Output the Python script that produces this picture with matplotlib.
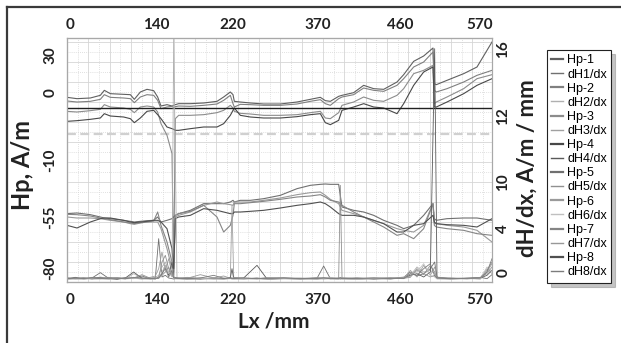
import matplotlib
matplotlib.use("Agg")
import matplotlib.pyplot as plt
from matplotlib.lines import Line2D
from matplotlib.ticker import MultipleLocator

# chart units: x 0..1275 along Lx, y 0..732 (tick labels of the source are non-linear)
lx = [0, 30, 70, 100, 112, 130, 170, 190, 202, 220, 240, 260, 272, 282, 300, 315, 320, 325, 335, 370,
      410, 450, 470, 490, 498, 502, 520, 550, 590, 640, 690, 730, 760, 775, 790, 815, 825, 860, 890, 920,
      950, 990, 1010, 1040, 1070, 1098, 1102, 1108, 1140, 1190, 1230, 1275]

hp1 = [554, 550, 552, 560, 575, 565, 563, 562, 548, 570, 578, 574, 555, 528, 532, 528, 530, 532, 535, 535,
       537, 542, 555, 570, 562, 542, 540, 537, 534, 534, 540, 548, 554, 544, 542, 557, 560, 568, 590, 580,
       578, 600, 622, 662, 678, 702, 595, 592, 605, 625, 645, 720]
hp2 = [543, 540, 542, 548, 562, 554, 552, 550, 538, 555, 562, 560, 545, 520, 525, 527, 524, 526, 528, 527,
       530, 534, 545, 560, 535, 525, 533, 532, 530, 530, 534, 542, 547, 535, 530, 550, 555, 562, 582, 575,
       572, 590, 610, 645, 660, 690, 575, 570, 580, 600, 620, 635]
hp3 = [512, 510, 514, 518, 532, 525, 522, 518, 508, 525, 528, 525, 510, 475, 440, 385, 40, 490, 500, 500,
       502, 508, 515, 530, 522, 512, 506, 504, 500, 500, 502, 508, 512, 492, 490, 508, 530, 540, 555, 545,
       542, 560, 580, 625, 635, 650, 535, 540, 555, 580, 610, 622]
hp4 = [482, 484, 488, 492, 505, 498, 495, 490, 478, 492, 512, 515, 502, 490, 465, 460, 458, 455, 455, 460,
       465, 465, 475, 500, 515, 522, 500, 495, 492, 492, 496, 502, 505, 478, 472, 485, 515, 525, 535, 525,
       522, 505, 535, 590, 630, 645, 525, 525, 540, 565, 590, 610]
hp5 = [205, 207, 202, 195, 192, 190, 185, 182, 180, 182, 184, 185, 195, 180, 185, 190, 195, 200, 205, 215,
       235, 235, 235, 240, 245, 240, 245, 245, 250, 260, 280, 290, 293, 294, 293, 293, 225, 215, 210, 200,
       185, 170, 160, 170, 200, 235, 190, 185, 190, 192, 192, 185]
hp6 = [195, 192, 192, 190, 188, 185, 180, 175, 173, 177, 180, 180, 180, 160, 100, 40, 20, 195, 200, 210,
       230, 240, 235, 232, 230, 240, 240, 240, 245, 252, 262, 268, 270, 260, 248, 235, 215, 205, 195, 185,
       175, 160, 155, 150, 170, 235, 175, 175, 170, 165, 155, 120]
hp7 = [203, 202, 198, 192, 190, 187, 180, 177, 175, 178, 180, 183, 210, 170, 120, 60, 30, 200, 205, 212,
       230, 195, 150, 170, 200, 235, 235, 238, 242, 248, 255, 258, 262, 255, 245, 240, 230, 210, 195, 180,
       165, 140, 145, 130, 160, 235, 170, 165, 160, 155, 145, 140]
hp8 = [170, 162, 180, 190, 192, 192, 185, 180, 178, 180, 182, 185, 185, 180, 160, 100, 40, 190, 195, 200,
       220, 215, 210, 205, 205, 210, 210, 212, 215, 222, 230, 235, 240, 235, 225, 205, 200, 200, 195, 185,
       175, 150, 150, 170, 175, 200, 180, 175, 172, 170, 165, 190]

lx_d = [0, 25, 50, 75, 100, 125, 150, 175, 200, 225, 250, 265, 275, 285, 295, 305, 315, 320, 330, 360,
        400, 440, 470, 490, 495, 500, 530, 570, 600, 650, 700, 750, 770, 790, 815, 820, 825, 870, 920, 970,
        1010, 1030, 1050, 1070, 1090, 1103, 1110, 1150, 1200, 1240, 1260, 1275]

dh1 = [10, 14, 9, 12, 28, 11, 8, 13, 10, 18, 9, 12, 130, 15, 20, 12, 10, 9, 11, 8, 12, 10, 9, 14, 11, 10,
       9, 12, 8, 10, 9, 11, 48, 10, 9, 12, 10, 8, 11, 9, 14, 30, 18, 25, 40, 60, 12, 9, 11, 14, 10, 22]
dh2 = [8, 11, 13, 9, 15, 10, 12, 9, 25, 12, 10, 14, 20, 45, 60, 30, 15, 732, 12, 10, 9, 13, 10, 12, 9, 11,
       10, 9, 13, 10, 12, 9, 10, 14, 11, 12, 10, 9, 12, 10, 15, 20, 45, 30, 35, 25, 10, 12, 9, 13, 40, 25]
dh3 = [12, 9, 10, 14, 11, 9, 13, 10, 12, 9, 14, 18, 40, 90, 35, 70, 25, 12, 10, 14, 11, 9, 12, 10, 230, 14,
       10, 11, 9, 12, 10, 13, 9, 11, 10, 14, 12, 10, 9, 11, 10, 35, 15, 50, 20, 45, 15, 10, 12, 9, 30, 55]
dh4 = [9, 12, 10, 11, 13, 10, 9, 12, 30, 11, 10, 9, 15, 25, 50, 20, 60, 15, 12, 10, 9, 11, 10, 12, 40, 10,
       12, 50, 9, 11, 10, 9, 12, 10, 11, 9, 10, 12, 9, 11, 12, 20, 25, 15, 30, 700, 14, 10, 11, 12, 20, 35]
dh5 = [11, 10, 12, 9, 10, 14, 11, 10, 12, 22, 11, 10, 12, 60, 80, 40, 30, 12, 11, 13, 10, 12, 9, 11, 10, 12,
       11, 10, 12, 11, 9, 12, 11, 10, 12, 290, 12, 11, 10, 12, 11, 14, 40, 22, 50, 30, 12, 11, 10, 12, 35, 60]
dh6 = [7, 9, 8, 10, 9, 8, 10, 9, 11, 9, 8, 10, 12, 30, 50, 25, 40, 10, 9, 8, 10, 9, 8, 10, 9, 8,
       10, 9, 8, 10, 9, 8, 10, 9, 8, 10, 9, 8, 10, 9, 12, 25, 30, 55, 20, 15, 9, 8, 10, 9, 45, 30]
dh7 = [13, 11, 12, 10, 12, 11, 13, 12, 14, 11, 12, 13, 11, 20, 30, 45, 20, 13, 12, 11, 22, 12, 18, 11, 12, 13,
       12, 11, 12, 13, 11, 12, 13, 12, 11, 13, 12, 11, 12, 13, 11, 18, 35, 25, 15, 20, 13, 12, 11, 13, 25, 45]
dh8 = [10, 12, 11, 13, 10, 12, 11, 10, 13, 12, 11, 10, 12, 25, 40, 15, 35, 12, 11, 10, 12, 20, 11, 12, 10, 11,
       12, 10, 11, 12, 10, 11, 12, 10, 11, 12, 10, 11, 12, 10, 11, 25, 20, 40, 55, 18, 12, 10, 11, 12, 30, 70]

ref_level = 521      # black horizontal line
dash_level = 443     # light dashed line

x_labels = ["0", "140", "220", "370", "460", "570"]
x_label_pos = [8, 269, 497, 752, 1001, 1238]
left_labels = ["30", "0", "-10", "-55", "-80"]
left_label_pos = [680, 569, 365, 194, 41]
right_labels = ["16", "12", "10", "4", "0"]
right_label_pos = [698, 497, 299, 161, 29]

hp_series = [hp1, hp2, hp3, hp4, hp5, hp6, hp7, hp8]
dh_series = [dh1, dh2, dh3, dh4, dh5, dh6, dh7, dh8]
hp_colors = ["#606060", "#808080", "#8c8c8c", "#484848", "#707070", "#9a9a9a", "#858585", "#505050"]
dh_colors = ["#707070", "#b0b0b0", "#a0a0a0", "#5a5a5a", "#909090", "#c0c0c0", "#989898", "#7c7c7c"]

W, H = 621, 343
fig = plt.figure(figsize=(W / 100, H / 100), dpi=100)
ax = fig.add_axes([67 / W, 1 - 282 / H, 425 / W, 244 / H])
ax.set_xlim(0, 1275)
ax.set_ylim(0, 732)

ax.xaxis.set_major_locator(MultipleLocator(64))
ax.xaxis.set_minor_locator(MultipleLocator(32))
ax.yaxis.set_major_locator(MultipleLocator(60))
ax.yaxis.set_minor_locator(MultipleLocator(30))
ax.grid(which="major", color="#d6d6d6", lw=0.6, ls="-")
ax.grid(which="minor", color="#d6d6d6", lw=0.6, ls=(0, (1, 1.5)))
ax.set_axisbelow(True)
ax.tick_params(which="both", length=0, labelbottom=False, labelleft=False)

ax.axhline(dash_level, color="#d0d0d0", lw=1.6, ls=(0, (4, 2)), zorder=1)
ax.axhline(ref_level, color="#202020", lw=1.0, zorder=3)

hp_lines = []
for i, ys in enumerate(hp_series):
    ln, = ax.plot(lx, ys, color=hp_colors[i], lw=0.8, label=f"Hp-{i + 1}")
    hp_lines.append(ln)

ax2 = ax.twinx()
ax2.set_ylim(0, 732)
dh_lines = []
for i, ys in enumerate(dh_series):
    ln, = ax2.plot(lx_d, ys, color=dh_colors[i], lw=0.6, label=f"dH{i + 1}/dx")
    dh_lines.append(ln)

tick_font = dict(family="Lato", weight="bold", size=11)
spine_c = "#a8a8a8"
for a in (ax, ax2):
    for s in a.spines.values():
        s.set_color(spine_c)

ax2.set_yticks(right_label_pos, right_labels, rotation=90, va="center", **tick_font)
ax2.tick_params(axis="y", length=0, pad=3, colors="#222222")

sec_top = ax.secondary_xaxis("top")
sec_top.set_xticks(x_label_pos, x_labels, **tick_font)
sec_top.tick_params(length=0, pad=4, colors="#222222")
sec_bot = ax.secondary_xaxis("bottom")
sec_bot.set_xticks(x_label_pos, x_labels, **tick_font)
sec_bot.tick_params(length=0, pad=8, colors="#222222")
sec_left = ax.secondary_yaxis("left")
sec_left.set_yticks(left_label_pos, left_labels, rotation=90, va="center", **tick_font)
sec_left.tick_params(length=0, pad=7, colors="#222222")
for sa in (sec_top, sec_bot, sec_left):
    for s in sa.spines.values():
        s.set_color(spine_c)

lab_font = dict(family="Lato", weight="bold", color="#222222")
fig.text(22 / W, 1 - 165 / H, "Hp, A/m", rotation=90, ha="center", va="center", size=17, **lab_font)
fig.text(274 / W, 1 - 322 / H, "Lx /mm", ha="center", va="center", size=15, **lab_font)
fig.text(527 / W, 1 - 168 / H, "dH/dx, A/m / mm", rotation=90, ha="center", va="center", size=16, **lab_font)

handles = []
for h, d in zip(hp_lines, dh_lines):
    handles += [h, d]
leg = fig.legend(handles=handles, loc="upper left", bbox_to_anchor=(547 / W, 1 - 50 / H),
                 borderaxespad=0, frameon=True, fancybox=False,
                 shadow={"ox": 3, "oy": -3, "shade": 0.45},
                 prop={"family": ["Liberation Sans Narrow", "Liberation Sans"], "size": 9},
                 handlelength=0.9, handletextpad=0.35, labelspacing=0.17, borderpad=0.35)
leg.get_frame().set_edgecolor("#222222")
leg.get_frame().set_linewidth(0.8)
for ln in leg.get_lines():
    ln.set_linewidth(1.6 if ln.get_label().startswith("Hp") else 1.0)

# outer frame of the figure (cut at right and bottom)
fig.add_artist(Line2D([7 / W, 1], [1 - 7 / H, 1 - 7 / H], transform=fig.transFigure, color="#3a3a3a", lw=1.6))
fig.add_artist(Line2D([7 / W, 7 / W], [0, 1 - 7 / H], transform=fig.transFigure, color="#3a3a3a", lw=1.6))

fig.savefig("out.png", dpi=100)
